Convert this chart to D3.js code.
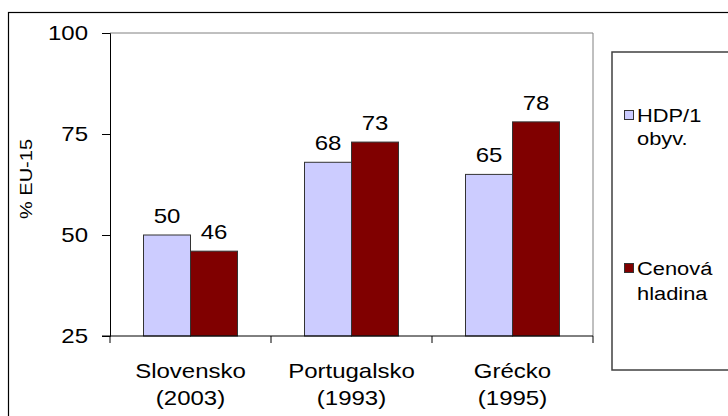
<!DOCTYPE html>
<html><head><meta charset="utf-8">
<script src="https://cdn.jsdelivr.net/npm/d3@7"></script>
<style>body{margin:0;background:#fff}svg{display:block}text{font-family:"Liberation Sans",Arial,sans-serif;fill:#000}</style>
</head><body><svg id="c" width="728" height="416"></svg>
<script>
const categories = [["Slovensko","(2003)"],["Portugalsko","(1993)"],["Grécko","(1995)"]];
const seriesNames = [["HDP/1","obyv."],["Cenová","hladina"]];
const hdp = [50, 68, 65];
const cenova = [46, 73, 78];
const yTicks = [25, 50, 75, 100];
const colors = ["#ccccff", "#800000"];

const SX = 1.2;
const svg = d3.select("#c");
function txt(x, y, s, size, anchor, sx) {
  sx = sx || SX;
  return svg.append("text").attr("transform", `translate(${x},${y}) scale(${sx},1)`)
    .attr("text-anchor", anchor || "start").attr("font-size", size).text(s);
}
// outer frame
svg.append("rect").attr("x",8.5).attr("y",12.5).attr("width",740).attr("height",420)
  .attr("fill","none").attr("stroke","#000").attr("stroke-width",1.2);

const L=110, R=593, T=33, B=336;
const x = d3.scaleBand().domain(d3.range(categories.length)).range([L,R]);
const xi = d3.scaleBand().domain([0,1]).range([0, 94]);
const y = d3.scaleLinear().domain([25,100]).range([B,T]);

// plot border (top/right gray)
svg.append("path").attr("d",`M${L},${T}H${R}V${B}`).attr("fill","none").attr("stroke","#808080").attr("stroke-width",1);

const series=[hdp,cenova];
series.forEach((vals,s)=>{
  vals.forEach((v,i)=>{
    const bx = x(i) + (x.bandwidth()-94)/2 + xi(s);
    svg.append("rect").attr("x",bx).attr("y",y(v)).attr("width",xi.bandwidth()).attr("height",B-y(v))
      .attr("fill",colors[s]).attr("stroke","#333").attr("stroke-width",1);
    txt(bx+xi.bandwidth()/2, y(v)-12, v, 20, "middle");
  });
});

// y axis
const ya = svg.append("g").attr("transform",`translate(${L},0)`)
  .call(d3.axisLeft(y).tickValues(yTicks).tickSize(8).tickPadding(14));
ya.select(".domain").attr("stroke","#000");
ya.selectAll("line").attr("stroke","#000");
ya.selectAll("text").attr("font-size",20).attr("font-family","Liberation Sans, Arial, sans-serif").attr("fill","#000")
  .each(function(){ const e=d3.select(this); e.attr("x", (+e.attr("x"))/SX).attr("transform",`scale(${SX},1)`); });

// x axis
svg.append("line").attr("x1",L-8).attr("x2",R).attr("y1",B).attr("y2",B).attr("stroke","#000");
const xt=[L].concat(d3.range(categories.length).map(i=>x(i)+x.bandwidth()));
xt.forEach(t=>svg.append("line").attr("x1",t).attr("x2",t).attr("y1",B).attr("y2",B+7).attr("stroke","#000"));
categories.forEach((c,i)=>{
  const cx = x(i)+x.bandwidth()/2;
  txt(cx, 378, c[0], 20, "middle");
  txt(cx, 405, c[1], 20, "middle");
});

// y title
svg.append("text").attr("transform","translate(32,179) rotate(-90) scale(1.25,1)").attr("text-anchor","middle")
  .attr("font-size",16).text("% EU-15");

// legend
svg.append("rect").attr("x",612).attr("y",52).attr("width",200).attr("height",318)
  .attr("fill","#fff").attr("stroke","#404040").attr("stroke-width",1.5);
const legY=[[122,145],[275,300]];
seriesNames.forEach((n,s)=>{
  svg.append("rect").attr("x",624.5).attr("y",legY[s][0]-11.5).attr("width",9).attr("height",9)
    .attr("fill",colors[s]).attr("stroke","#333").attr("stroke-width",1);
  txt(637, legY[s][0], n[0], 19, "start", 1.15);
  txt(637, legY[s][1], n[1], 19, "start", 1.15);
});
</script></body></html>
